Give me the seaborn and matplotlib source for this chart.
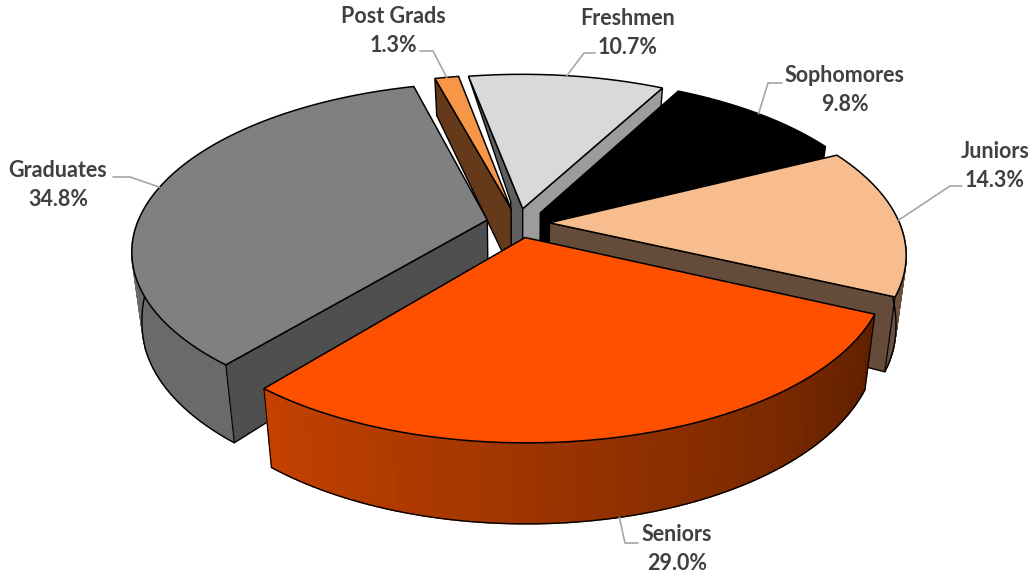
import numpy as np
import seaborn as sns
import matplotlib.pyplot as plt
from matplotlib.patches import Polygon

# clockwise from the first slice
names = ["Freshmen", "Sophomores", "Juniors", "Seniors", "Graduates", "Post Grads"]
shares = [10.7, 9.8, 14.3, 29.0, 34.8, 1.3]

tops = ["#D9D9D9", "#000000", "#F7BD8E", "#FF5000", "#808080", "#F79646"]
wall_start = ["#5E5E5E", "#000000", "#654B39", "#662000", "#4F4F4F", "#643A1A"]
wall_end = ["#9C9C9C", "#000000", "#654B39", "#662000", "#4F4F4F", "#643A1A"]
# outer wall colour at the first and last angle of each slice
rim_a = ["#9C9C9C", "#000000", "#654B39", "#5F2000", "#6A6A6A", "#643A1A"]
rim_b = ["#9C9C9C", "#000000", "#6B5040", "#C44100", "#6A6A6A", "#643A1A"]

draw_order = [0, 1, 5, 2, 4, 3]

# label centre, elbow and end of the leader, in pixels
label_pos = [(628, 33), (845, 90), (995, 166), (677, 549), (58, 185), (393, 31)]
leaders = [[(584, 53), (595, 53)], [(768, 83), (782, 83)], [(950, 186), (962, 186)],
           [(625, 543), (638, 543)], [(130, 177), (113, 177)], [(433, 51), (420, 51)]]

START = -10.5
EXPLODE = 0.09
CX, CY = 518, 223
RX, RY = 350, 163
HEIGHT = 66
TILT = 0.36
P, Q = 0.178, 0.026


def project(ang, r, ang0, z):
    # ang in degrees clockwise from the back of the pie
    u = r * np.sin(np.radians(ang)) + EXPLODE * np.sin(np.radians(ang0))
    v = r * np.cos(np.radians(ang)) + EXPLODE * np.cos(np.radians(ang0))
    w = 1 + P * v + Q * z
    # the drop stays about the same over the front half and shrinks to the back
    drop = HEIGHT * z * (1 - TILT * max(v, -0.3))
    return CX + RX * u / w, CY + (-RY * v + drop) / w


sns.set_theme(style="white")
plt.rcParams["font.family"] = ["Lato", "DejaVu Sans"]

fig = plt.figure(figsize=(10.36, 5.74), dpi=100)
ax = fig.add_axes([0, 0, 1, 1])
ax.set_xlim(0, 1036)
ax.set_ylim(574, 0)
ax.axis("off")

edges = np.cumsum([0] + shares) / sum(shares) * 360 + START
mids = (edges[:-1] + edges[1:]) / 2

for n, i in enumerate(draw_order):
    a0, a1, mid = edges[i], edges[i + 1], mids[i]
    zo = 1 + n
    angs = np.linspace(a0, a1, 80)
    top = np.array([project(a, 1, mid, 0) for a in angs])
    bot = np.array([project(a, 1, mid, 1) for a in angs])
    tip_t = project(0, 0, mid, 0)
    tip_b = project(0, 0, mid, 1)

    # inner walls, only the ones turned to the viewer
    if np.sin(np.radians(a0)) < 0:
        if names[i] == "Freshmen":
            # this wall tapers away to nothing at the back corner
            corner = (tip_t[0] - 12, tip_t[1] - 7)
            wall = [tip_t, top[0], corner, (corner[0], tip_b[1]), tip_b]
        else:
            wall = [tip_t, top[0], bot[0], tip_b]
        ax.add_patch(Polygon(wall, fc=wall_start[i], ec="black", lw=1, zorder=zo))
    if np.sin(np.radians(a1)) > 0:
        ax.add_patch(Polygon([tip_t, top[-1], bot[-1], tip_b], fc=wall_end[i], ec="black", lw=1, zorder=zo))

    # outer wall, front half only
    front = np.cos(np.radians(angs)) < 0.03
    if front.sum() > 1:
        rim = sns.blend_palette([rim_a[i], rim_b[i]], len(angs) - 1)
        for k, col in enumerate(rim):
            if front[k] and front[k + 1]:
                ax.add_patch(Polygon([top[k], top[k + 1], bot[k + 1], bot[k]], fc=col, ec=col, lw=1, zorder=zo + 0.1))
        ax.plot(bot[front, 0], bot[front, 1], color="black", lw=1, zorder=zo + 0.2)
        for j in np.flatnonzero(front)[[0, -1]]:
            ax.plot([top[j][0], bot[j][0]], [top[j][1], bot[j][1]], color="black", lw=0.8, zorder=zo + 0.2)

    ax.add_patch(Polygon(np.vstack([[tip_t], top]), fc=tops[i], ec="black", lw=1.1, zorder=zo + 0.3))

for i, name in enumerate(names):
    # the front slice has its leader on the lower rim
    z = 1 if name == "Seniors" else 0
    anchor = project(mids[i], 1, mids[i], z)
    pts = [anchor] + leaders[i]
    ax.plot([p[0] for p in pts], [p[1] for p in pts], color="#A6A6A6", lw=1.2, zorder=20)
    ax.text(label_pos[i][0], label_pos[i][1], f"{name}\n{shares[i]:.1f}%", ha="center", va="center",
            fontsize=15.5, fontweight="bold", color="#404040", linespacing=1.45, zorder=20)

fig.savefig("out.png", dpi=100)
